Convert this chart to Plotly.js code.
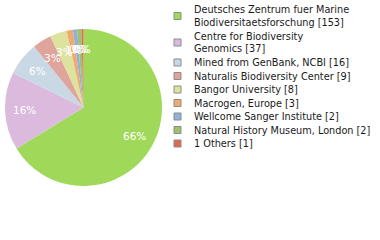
<!DOCTYPE html>
<html><head><meta charset="utf-8">
<script src="https://cdn.plot.ly/plotly-3.0.1.min.js"></script>
<style>html,body{margin:0;padding:0;background:#fff}#c{width:380px;height:240px}</style>
</head><body><div id="c"></div>
<script>
const labels = [
  "Deutsches Zentrum fuer Marine|Biodiversitaetsforschung [153]",
  "Centre for Biodiversity|Genomics [37]",
  "Mined from GenBank, NCBI [16]",
  "Naturalis Biodiversity Center [9]",
  "Bangor University [8]",
  "Macrogen, Europe [3]",
  "Wellcome Sanger Institute [2]",
  "Natural History Museum, London [2]",
  "1 Others [1]"
];
const values = [153, 37, 16, 9, 8, 3, 2, 2, 1];
const colors = ["#a0d95a", "#dbbadd", "#c9d8e5", "#dfa49c", "#dde29e", "#f0aa6e", "#8fb1da", "#9cc26c", "#de6b50"];

const W = 380, H = 240;
const pie = {x0: 5, x1: 162, y0: 29, y1: 186};
const cx = (pie.x0 + pie.x1) / 2, cy = (pie.y0 + pie.y1) / 2, R = (pie.x1 - pie.x0) / 2;
const total = values.reduce((a, b) => a + b, 0);
const FONT = "DejaVu Sans Condensed, DejaVu Sans";

const annotations = [];
const shapes = [];
let cum = 0;
values.forEach((v, i) => {
  const mid = (cum + v / 2) / total * 2 * Math.PI;
  cum += v;
  const r = 0.75 * R;
  const px = cx + r * Math.sin(mid), py = cy - r * Math.cos(mid);
  annotations.push({
    text: Math.floor(v / total * 100) + "%", x: px / W, y: 1 - py / H,
    xref: "paper", yref: "paper", xanchor: "center", yanchor: "middle",
    showarrow: false, font: {family: "DejaVu Sans", size: 10.5, color: "#ffffff"}
  });
});
let ly = 9.5;
const lineH = 13, gap = 0.5;
labels.forEach((lab, i) => {
  const lines = lab.split("|");
  const midY = ly + (lines.length - 1) * lineH / 2;
  shapes.push({type: "rect", xref: "paper", yref: "paper",
    x0: 174 / W, x1: 181 / W, y0: 1 - (midY + 3.5) / H, y1: 1 - (midY - 3.5) / H,
    fillcolor: colors[i], line: {color: "#8c8c8c", width: 1}});
  lines.forEach((t, j) => {
    annotations.push({
      text: t, x: 192 / W, y: 1 - (ly + j * lineH) / H, xref: "paper", yref: "paper",
      xanchor: "left", yanchor: "middle", showarrow: false,
      font: {family: FONT, size: 10.8, color: "#1a1a1a"}
    });
  });
  ly += lines.length * lineH + gap;
});

const data = [{
  type: "pie", values: values, labels: labels.map(l => l.replace("|", " ")),
  marker: {colors: colors, line: {width: 0}}, sort: false, direction: "clockwise", rotation: 0,
  textinfo: "none", hoverinfo: "none",
  domain: {x: [pie.x0 / W, pie.x1 / W], y: [1 - pie.y1 / H, 1 - pie.y0 / H]}
}];
const layout = {
  width: W, height: H, margin: {l: 0, r: 0, t: 0, b: 0}, showlegend: false,
  paper_bgcolor: "#ffffff", annotations: annotations, shapes: shapes
};
Plotly.newPlot("c", data, layout, {staticPlot: true});
</script></body></html>
